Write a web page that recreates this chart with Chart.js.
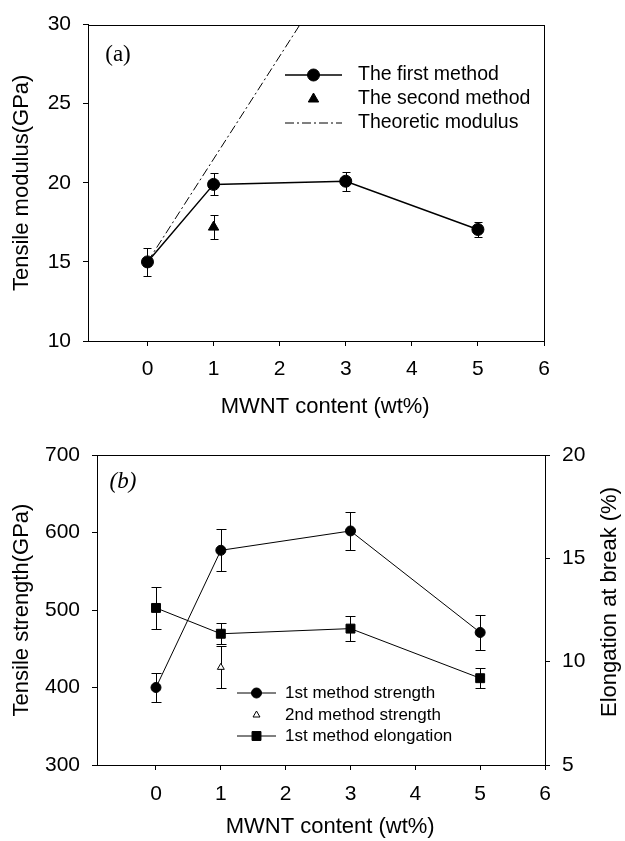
<!DOCTYPE html>
<html>
<head>
<meta charset="utf-8">
<script src="https://cdn.jsdelivr.net/npm/chart.js@4.4.1/dist/chart.umd.min.js"></script>
<style>
  html, body { margin: 0; padding: 0; background: #fff; }
  #wrap { position: relative; width: 625px; height: 841px; }
  canvas { position: absolute; left: 0; }
</style>
</head>
<body>
<div id="wrap">
  <canvas id="chartA" width="625" height="420" style="top:0"></canvas>
  <canvas id="chartB" width="625" height="421" style="top:420px"></canvas>
</div>
<script>
// MWNT content (wt%)
const mwnt = [0, 1, 3, 5];
const mwntSecond = [1];
const xTicks = [0, 1, 2, 3, 4, 5, 6];

// (a) tensile modulus, GPa
const modulusFirst = [15.0, 19.9, 20.1, 17.05];
const modulusFirstErr = [0.9, 0.7, 0.6, 0.45];
const modulusSecond = [17.2];
const modulusSecondErr = [0.75];
const modulusTheory = [15.0, 21.5, 34.5, 47.5];
const modulusTicks = [10, 15, 20, 25, 30];

// (b) tensile strength and elongation
const strengthFirst = [400, 577, 602, 471];
const strengthFirstErr = [19, 27, 25, 22];
const strengthSecond = [426];
const strengthSecondErr = [27];
const elongFirst = [12.6, 11.35, 11.6, 9.2];
const elongFirstErr = [1.0, 0.5, 0.6, 0.48];
const strengthTicks = [300, 400, 500, 600, 700];
const elongTicks = [5, 10, 15, 20];

const SANS = '"Liberation Sans", Arial, Helvetica, sans-serif';
const SERIF = '"Liberation Serif", "Times New Roman", serif';
Chart.defaults.color = '#000';
Chart.defaults.font.family = SANS;

function pts(xs, ys) {
  return xs.map((x, i) => ({ x: x, y: ys[i] }));
}

// vertical error bars with caps, drawn under the markers
const errorBars = {
  id: 'errorBars',
  beforeDatasetsDraw(chart) {
    const ctx = chart.ctx;
    chart.data.datasets.forEach((ds, i) => {
      if (!ds.errors) return;
      const meta = chart.getDatasetMeta(i);
      const xs = chart.scales[meta.xAxisID], ys = chart.scales[meta.yAxisID];
      const w = ds.capHalf || 4;
      ctx.save();
      ctx.strokeStyle = '#000';
      ctx.lineWidth = 1;
      ds.data.forEach((p, j) => {
        const px = Math.round(xs.getPixelForValue(p.x)) + 0.5;
        const top = Math.round(ys.getPixelForValue(p.y + ds.errors[j])) + 0.5;
        const bot = Math.round(ys.getPixelForValue(p.y - ds.errors[j])) + 0.5;
        ctx.beginPath();
        ctx.moveTo(px, top); ctx.lineTo(px, bot);
        ctx.moveTo(px - w, top); ctx.lineTo(px + w, top);
        ctx.moveTo(px - w, bot); ctx.lineTo(px + w, bot);
        ctx.stroke();
      });
      ctx.restore();
    });
  }
};

// box round the plot area
const frame = {
  id: 'frame',
  afterDraw(chart) {
    const a = chart.chartArea, ctx = chart.ctx;
    ctx.save();
    ctx.strokeStyle = '#000';
    ctx.lineWidth = 1;
    ctx.strokeRect(Math.round(a.left) + 0.5, Math.round(a.top) + 0.5,
                   Math.round(a.right - a.left), Math.round(a.bottom - a.top));
    ctx.restore();
  }
};

// legend drawn inside the plot: line + marker + label
function makeKey(o) {
  return {
    id: 'key',
    afterDatasetsDraw(chart) {
      const ctx = chart.ctx;
      ctx.save();
      o.order.forEach((di, k) => {
        const ds = chart.data.datasets[di];
        const y = o.y[k];
        if (ds.showLine !== false) {
          ctx.beginPath();
          ctx.setLineDash(ds.borderDash || []);
          ctx.strokeStyle = '#000';
          ctx.lineWidth = ds.borderWidth;
          ctx.moveTo(o.x0, y); ctx.lineTo(o.x1, y);
          ctx.stroke();
          ctx.setLineDash([]);
        }
        if (ds.pointRadius > 0) {
          ctx.fillStyle = ds.pointBackgroundColor;
          ctx.strokeStyle = ds.pointBorderColor;
          ctx.lineWidth = ds.pointBorderWidth;
          Chart.helpers.drawPoint(ctx, {
            pointStyle: ds.pointStyle, radius: ds.pointRadius,
            rotation: 0, borderWidth: ds.pointBorderWidth
          }, (o.x0 + o.x1) / 2, y);
        }
        ctx.fillStyle = '#000';
        ctx.font = o.font;
        ctx.textAlign = 'left';
        ctx.textBaseline = 'middle';
        ctx.fillText(ds.label, o.textX, y);
      });
      ctx.restore();
    }
  };
}

// free text (panel letter, rotated right-axis title)
function makeText(items) {
  return {
    id: 'freeText',
    afterDraw(chart) {
      const ctx = chart.ctx;
      items.forEach(t => {
        ctx.save();
        ctx.translate(t.x, t.y);
        ctx.rotate(t.rot || 0);
        ctx.font = t.font;
        ctx.fillStyle = '#000';
        ctx.textAlign = 'center';
        ctx.textBaseline = 'middle';
        ctx.fillText(t.text, 0, 0);
        ctx.restore();
      });
    }
  };
}

function xAxis(min, height, pad, titlePad) {
  return {
    type: 'linear', min: min, max: 6,
    afterBuildTicks: s => { s.ticks = xTicks.map(v => ({ value: v })); },
    afterFit: s => { s.height = height; },
    grid: { display: true, drawOnChartArea: false, drawTicks: true, tickLength: 5, tickColor: '#000' },
    border: { display: true, color: '#000', width: 1 },
    ticks: { font: { size: 21 }, padding: pad, maxRotation: 0, autoSkip: false },
    title: { display: true, text: '   MWNT content (wt%)', font: { size: 22 }, padding: { top: 0, bottom: titlePad } }
  };
}

function yAxis(min, max, ticks, width, position, title) {
  return {
    type: 'linear', position: position, min: min, max: max,
    afterBuildTicks: s => { s.ticks = ticks.map(v => ({ value: v })); },
    afterFit: s => { s.width = width; },
    grid: { display: true, drawOnChartArea: false, drawTicks: true, tickLength: 5, tickColor: '#000' },
    border: { display: true, color: '#000', width: 1 },
    ticks: { font: { size: 21 }, padding: 12 },
    title: { display: !!title, text: title || '', font: { size: 22 }, padding: { top: 9, bottom: 0 } }
  };
}

const common = {
  responsive: false,
  animation: false,
  events: [],
  plugins: { legend: { display: false }, tooltip: { enabled: false } }
};

// ---- (a) ----
new Chart(document.getElementById('chartA'), {
  type: 'scatter',
  data: {
    datasets: [
      {
        label: 'The first method', data: pts(mwnt, modulusFirst), errors: modulusFirstErr,
        showLine: true, borderColor: '#000', borderWidth: 1.5,
        pointStyle: 'circle', pointRadius: 6, pointBackgroundColor: '#000',
        pointBorderColor: '#000', pointBorderWidth: 1, capHalf: 4
      },
      {
        label: 'The second method', data: pts(mwntSecond, modulusSecond), errors: modulusSecondErr,
        showLine: false, borderColor: '#000', borderWidth: 1.5,
        pointStyle: 'triangle', pointRadius: 6, pointBackgroundColor: '#000',
        pointBorderColor: '#000', pointBorderWidth: 1, capHalf: 4
      },
      {
        label: 'Theoretic modulus', data: pts(mwnt, modulusTheory),
        showLine: true, borderColor: '#000', borderWidth: 1, borderDash: [9, 3, 2, 3],
        pointRadius: 0
      }
    ]
  },
  options: Object.assign({}, common, {
    layout: { autoPadding: false, padding: { left: 0, top: 24, right: 81, bottom: 0 } },
    scales: {
      x: xAxis(-0.9, 79, 11, 0),
      y: yAxis(10, 30, modulusTicks, 88, 'left', 'Tensile modulus(GPa)')
    }
  }),
  plugins: [
    errorBars, frame,
    makeKey({ order: [0, 1, 2], x0: 285, x1: 342, textX: 358, y: [75, 99, 123], font: '19.5px ' + SANS }),
    makeText([{ text: '(a)', x: 118, y: 55, font: '23px ' + SERIF }])
  ]
});

// ---- (b) ----
new Chart(document.getElementById('chartB'), {
  type: 'scatter',
  data: {
    datasets: [
      {
        label: '1st method strength', data: pts(mwnt, strengthFirst), errors: strengthFirstErr,
        yAxisID: 'y', showLine: true, borderColor: '#000', borderWidth: 1,
        pointStyle: 'circle', pointRadius: 5, pointBackgroundColor: '#000',
        pointBorderColor: '#000', pointBorderWidth: 1, capHalf: 5
      },
      {
        label: '2nd method strength', data: pts(mwntSecond, strengthSecond), errors: strengthSecondErr,
        yAxisID: 'y', showLine: false, borderColor: '#000', borderWidth: 1,
        pointStyle: 'triangle', pointRadius: 4, pointBackgroundColor: '#fff',
        pointBorderColor: '#000', pointBorderWidth: 1, capHalf: 5
      },
      {
        label: '1st method elongation', data: pts(mwnt, elongFirst), errors: elongFirstErr,
        yAxisID: 'y1', showLine: true, borderColor: '#000', borderWidth: 1,
        pointStyle: 'rect', pointRadius: 6.3, pointBackgroundColor: '#000',
        pointBorderColor: '#000', pointBorderWidth: 1, capHalf: 5
      }
    ]
  },
  options: Object.assign({}, common, {
    layout: { autoPadding: false, padding: { left: 0, top: 35, right: 0, bottom: 0 } },
    scales: {
      x: xAxis(-0.91, 76, 12, 1),
      y: yAxis(300, 700, strengthTicks, 97, 'left', 'Tensile strength(GPa)'),
      y1: yAxis(5, 20, elongTicks, 80, 'right', null)
    }
  }),
  plugins: [
    errorBars, frame,
    makeKey({ order: [0, 1, 2], x0: 237, x1: 276, textX: 285, y: [273, 295, 316], font: '17px ' + SANS }),
    makeText([
      { text: '(b)', x: 123, y: 62, font: 'italic 23px ' + SERIF },
      { text: 'Elongation at break (%)', x: 610, y: 182, rot: -Math.PI / 2, font: '22px ' + SANS }
    ])
  ]
});
</script>
</body>
</html>
